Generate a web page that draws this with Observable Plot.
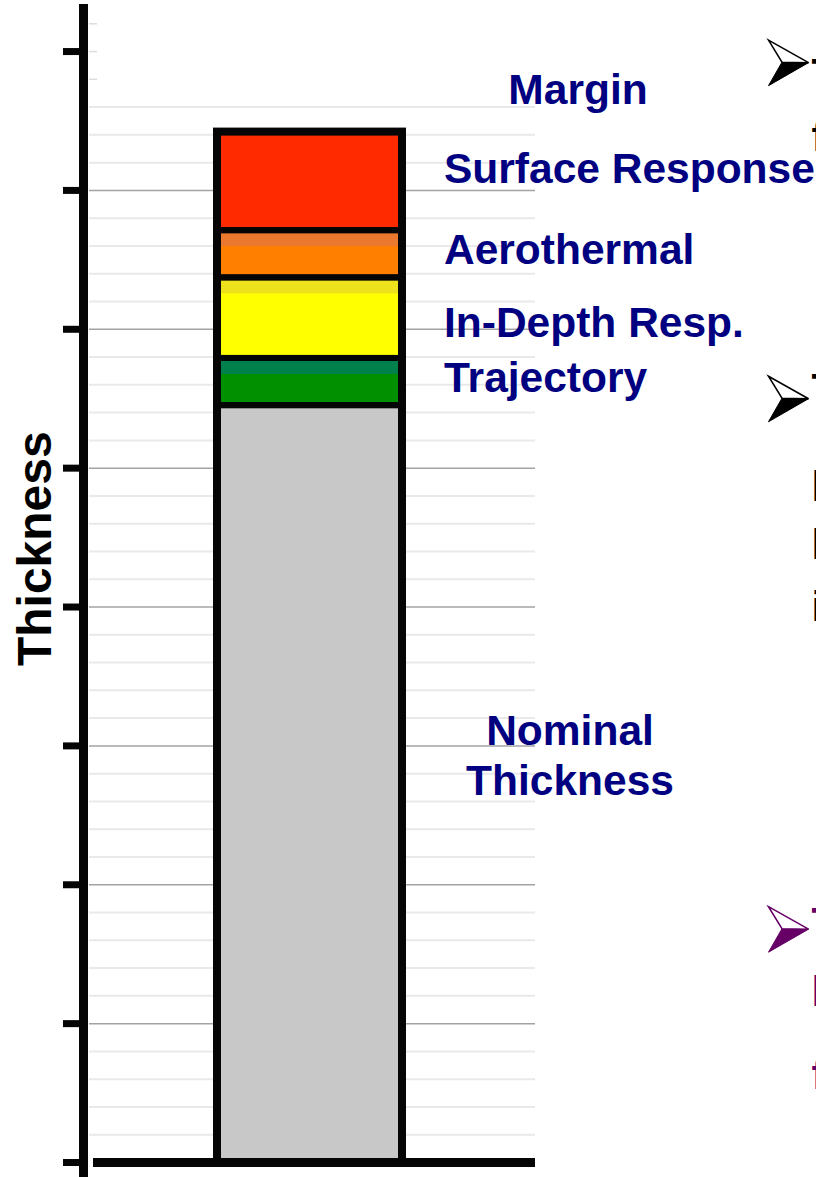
<!DOCTYPE html>
<html>
<head>
<meta charset="utf-8">
<script src="https://cdn.jsdelivr.net/npm/d3@7"></script>
<script src="https://cdn.jsdelivr.net/npm/@observablehq/plot@0.6"></script>
<style>
  html, body { margin: 0; padding: 0; background: #ffffff; overflow: hidden; }
  #chart svg { display: block; overflow: visible; }
</style>
</head>
<body>
<div id="chart"></div>
<script>
// ---- data ----
const barName = "TPS";
const segments = ["Nominal Thickness", "Trajectory", "In-Depth Resp.", "Aerothermal", "Surface Response"];
const values = [5.45, 0.34, 0.58, 0.34, 0.71];
const colors = ["#c8c8c8", "#009000", "#ffff00", "#ff7f00", "#ff2a00"];
const shadeColors = [null, "#00804c", "#eee21c", "#ea782e", null];

const yTicks = [0, 1, 2, 3, 4, 5, 6, 7, 8];
const gridMinor = [0.2,0.4,0.6,0.8,1.2,1.4,1.6,1.8,2.2,2.4,2.6,2.8,3.2,3.4,3.6,3.8,4.2,4.4,4.6,4.8,5.2,5.4,5.6,5.8,6.2,6.4,6.6,6.8,7.2,7.4,7.6];
const gridMajor = [1, 2, 3, 4, 5, 6, 7];
const gridStubs = [7.8, 8, 8.2];

const leftLabels = ["Surface Response", "Aerothermal", "In-Depth Resp.", "Trajectory"];
const leftLabelY = [7.15, 6.57, 6.04, 5.65];
const centerLabels = ["Margin", "Nominal\nThickness"];
const centerLabelY = [7.72, 2.94];
const centerLabelDx = [268, 260];

const axisTitle = "Thickness";
const axisTitleY = 4.42;

// slide bullets and the cut-off first letters of their text at the right edge
const bulletY = [7.92, 5.50, 1.68];
const bulletColors = ["#000000", "#000000", "#660066"];
const fragmentText = ["T", "f", "T", "l", "l", "i", "T", "l", "f"];
const fragmentY = [7.955, 7.50, 5.69, 4.98, 4.56, 4.12, 1.843, 1.346, 0.749];
const fragmentColors = ["#000000", "#000000", "#000000", "#000000", "#000000", "#000000", "#660066", "#660066", "#660066"];

// ---- tables built from the arrays ----
const rows = segments.map((s, i) => ({bar: barName, segment: s, value: values[i], color: colors[i]}));
const tops = Array.from(d3.cumsum(values));
const shades = segments
  .map((s, i) => ({bar: barName, top: tops[i], color: shadeColors[i]}))
  .filter(d => d.color);
const total = [{bar: barName, total: d3.sum(values)}];
const leftRows = leftLabels.map((t, i) => ({bar: barName, text: t, y: leftLabelY[i]}));
const centerRows = centerLabels.map((t, i) => ({bar: barName, text: t, y: centerLabelY[i]}));
const bullets = bulletY.map((y, i) => ({y, color: bulletColors[i]}));
const fragments = fragmentText.map((t, i) => ({text: t, y: fragmentY[i], color: fragmentColors[i]}));

// 3-D arrowhead bullet, drawn as two halves
const arrowUpper = {draw(ctx, size) {
  const k = Math.sqrt(size / Math.PI) / 20;
  ctx.moveTo(-20 * k, -22.5 * k); ctx.lineTo(20 * k, 0); ctx.lineTo(-6.5 * k, -0.5 * k); ctx.closePath();
}};
const arrowLower = {draw(ctx, size) {
  const k = Math.sqrt(size / Math.PI) / 20;
  ctx.moveTo(-6.5 * k, -0.5 * k); ctx.lineTo(20 * k, 0); ctx.lineTo(-20 * k, 23 * k); ctx.closePath();
}};

const font = "'Liberation Sans', Arial, Helvetica, sans-serif";
const navy = "#000080";

const chart = Plot.plot({
  width: 816,
  height: 1177,
  marginTop: 8,
  marginBottom: 15,
  marginLeft: 83,
  marginRight: 281,
  style: {fontFamily: font, background: "#ffffff", overflow: "visible"},
  x: {domain: [barName], paddingInner: 0, paddingOuter: 0.7216, axis: null},
  y: {domain: [0, 8.31], axis: null},
  marks: [
    Plot.ruleY(gridMinor, {stroke: "#e9e9e9", strokeWidth: 2, insetLeft: 6}),
    Plot.ruleY(gridMajor, {stroke: "#a3a3a3", strokeWidth: 1.5, insetLeft: 6}),
    Plot.ruleY(gridStubs, {stroke: "#dddddd", strokeWidth: 1.5, insetLeft: 6, insetRight: 438}),
    Plot.barY(rows, {x: "bar", y: "value", fill: "color"}),
    Plot.barY(shades, {x: "bar", y1: d => d.top - 0.115, y2: "top", fill: "color"}),
    Plot.barY(rows, {x: "bar", y: "value", fill: "none", stroke: "#050505", strokeWidth: 6}),
    Plot.barY(total, {x: "bar", y: "total", fill: "none", stroke: "#050505", strokeWidth: 8}),
    Plot.ruleY([0], {stroke: "#050505", strokeWidth: 9, insetLeft: 10}),
    Plot.frame({anchor: "left", stroke: "#050505", strokeWidth: 9, insetBottom: -15}),
    Plot.axisY(yTicks, {anchor: "left", tickSize: 20, strokeWidth: 7, stroke: "#050505", tickFormat: () => "", label: null}),
    Plot.text([axisTitle], {
      text: d => d, y: () => axisTitleY, frameAnchor: "left", dx: -48, rotate: -90,
      fontSize: 48, fontWeight: "bold", fill: "#000000", textAnchor: "middle"
    }),
    Plot.text(leftRows, {
      x: "bar", y: "y", text: "text", dx: 134, textAnchor: "start",
      fontSize: 42.5, fontWeight: "bold", fill: navy
    }),
    Plot.text(centerRows.slice(0, 1), {
      x: "bar", y: "y", text: "text", dx: centerLabelDx[0], textAnchor: "middle",
      fontSize: 42.5, fontWeight: "bold", fill: navy
    }),
    Plot.text(centerRows.slice(1), {
      x: "bar", y: "y", text: "text", dx: centerLabelDx[1], textAnchor: "middle",
      fontSize: 42.5, fontWeight: "bold", fill: navy, lineHeight: 1.16
    }),
    // bullets
    Plot.dot(bullets, {y: "y", frameAnchor: "right", dx: 253, r: 20, symbol: arrowLower, fill: "color", stroke: "color", strokeWidth: 1}),
    Plot.dot(bullets, {y: "y", frameAnchor: "right", dx: 253, r: 20, symbol: arrowUpper, fill: "#ffffff", stroke: "color", strokeWidth: 1.5}),
    // cut-off bullet text
    Plot.text(fragments, {
      y: "y", text: "text", frameAnchor: "right", dx: 276, textAnchor: "start", lineAnchor: "top",
      fontSize: 42.5, fontWeight: "bold", fill: "color"
    })
  ]
});
document.getElementById("chart").appendChild(chart);
</script>
</body>
</html>
